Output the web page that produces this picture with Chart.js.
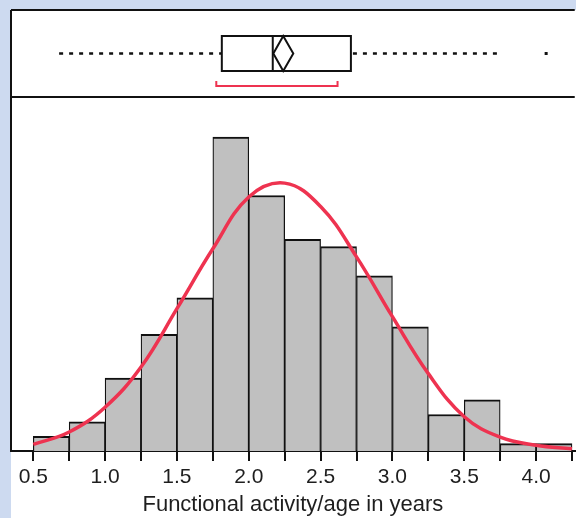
<!DOCTYPE html>
<html>
<head>
<meta charset="utf-8">
<script src="https://cdn.jsdelivr.net/npm/chart.js@4.4.1/dist/chart.umd.min.js"></script>
<style>
    html, body { margin: 0; padding: 0; background: #CDDAF0; }
    #wrap { width: 576px; height: 518px; }
</style>
</head>
<body>
<div id="wrap"><canvas id="myChart" width="576" height="518"></canvas></div>
<script>
// Histogramm: Klassen (linke Kante) und Anzahl
var binStarts = [0.5, 0.75, 1.0, 1.25, 1.5, 1.75, 2.0, 2.25, 2.5, 2.75, 3.0, 3.25, 3.5, 3.75, 4.0];
var binWidth = 0.25;
var counts = [2, 4, 10, 16, 21, 43, 35, 29, 28, 24, 17, 5, 7, 1, 1];

// Normalverteilungskurve
var curveX = [0.5, 0.75, 1.0, 1.25, 1.5, 1.75, 2.0, 2.25, 2.5, 2.75, 3.0, 3.25, 3.5, 3.75, 4.0, 4.25];
var curveY = [0.9, 2.6, 6.0, 11.5, 19.5, 27.7, 34.8, 36.7, 33.5, 26.6, 18.4, 10.6, 4.7, 1.9, 0.8, 0.3];

// Achse
var tickValues = [0.5, 0.75, 1.0, 1.25, 1.5, 1.75, 2.0, 2.25, 2.5, 2.75, 3.0, 3.25, 3.5, 3.75, 4.0, 4.25];
var xRange = [0.345, 4.269];
var yMax = 48.5;

// Boxplot
var whiskers = [0.68, 3.76];
var quartiles = [1.8125, 2.167, 2.711]; // Q1, Median, Q3
var meanDiamond = [2.171, 2.24, 2.31];  // links, Mittelwert, rechts
var outliers = [4.07];
var shortestHalf = [1.774, 2.618];

var fontFamily = "'Liberation Sans', Arial, sans-serif";
var ink = '#111111';
var red = '#EE3350';

var panelPlugin = {
    id: 'panel',
    beforeDraw: function (chart) {
        var ctx = chart.ctx;
        ctx.save();
        ctx.fillStyle = '#CDDAF0';
        ctx.fillRect(0, 0, chart.width, chart.height);
        ctx.fillStyle = '#ffffff';
        ctx.fillRect(11, 10, chart.width - 11, chart.height - 10);
        ctx.restore();
    },
    afterDraw: function (chart) {
        var ctx = chart.ctx;
        var area = chart.chartArea;
        var xs = chart.scales.x;
        var px = function (v) { return xs.getPixelForValue(v); };

        ctx.save();
        ctx.strokeStyle = ink;
        ctx.lineWidth = 2;
        // Rahmen
        ctx.beginPath();
        ctx.moveTo(area.left, 10);
        ctx.lineTo(area.right, 10);
        ctx.moveTo(area.left, 10);
        ctx.lineTo(area.left, area.bottom);
        ctx.moveTo(area.left, area.top);
        ctx.lineTo(area.right, area.top);
        ctx.stroke();

        var boxTop = 36, boxBottom = 71, mid = 53.5;

        // Whisker gestrichelt
        ctx.lineWidth = 2.5;
        ctx.setLineDash([4, 6]);
        ctx.beginPath();
        ctx.moveTo(px(whiskers[0]), mid);
        ctx.lineTo(px(quartiles[0]), mid);
        ctx.moveTo(px(quartiles[2]) + 2, mid);
        ctx.lineTo(px(whiskers[1]), mid);
        ctx.stroke();
        ctx.setLineDash([]);
        ctx.lineWidth = 2;

        // Box
        ctx.strokeRect(px(quartiles[0]), boxTop, px(quartiles[2]) - px(quartiles[0]), boxBottom - boxTop);
        ctx.beginPath();
        ctx.moveTo(px(quartiles[1]), boxTop);
        ctx.lineTo(px(quartiles[1]), boxBottom);
        ctx.stroke();

        // Mittelwert-Raute
        ctx.beginPath();
        ctx.moveTo(px(meanDiamond[0]), mid);
        ctx.lineTo(px(meanDiamond[1]), boxTop);
        ctx.lineTo(px(meanDiamond[2]), mid);
        ctx.lineTo(px(meanDiamond[1]), boxBottom);
        ctx.closePath();
        ctx.stroke();

        // Ausreisser
        ctx.fillStyle = ink;
        outliers.forEach(function (v) {
            ctx.fillRect(px(v) - 1.5, mid - 1.5, 3, 3);
        });

        // kürzeste Hälfte
        ctx.strokeStyle = red;
        ctx.beginPath();
        ctx.moveTo(px(shortestHalf[0]), 81);
        ctx.lineTo(px(shortestHalf[0]), 86);
        ctx.lineTo(px(shortestHalf[1]), 86);
        ctx.lineTo(px(shortestHalf[1]), 81);
        ctx.stroke();
        ctx.restore();
    }
};

var barData = [];
binStarts.forEach(function (s, i) {
    barData.push({ x: s + binWidth / 2, y: counts[i] });
});
var curveData = curveX.map(function (x, i) {
    return { x: x, y: curveY[i] };
});

var ctx = document.getElementById('myChart').getContext('2d');
var myChart = new Chart(ctx, {
    type: 'bar',
    data: {
        datasets: [{
            type: 'line',
            data: curveData,
            borderColor: red,
            borderWidth: 3.5,
            pointRadius: 0,
            tension: 0.4,
            fill: false,
            order: 0
        }, {
            type: 'bar',
            data: barData,
            backgroundColor: '#C0C0C0',
            borderColor: ink,
            borderWidth: { top: 2, left: 1.25, right: 1.25, bottom: 0 },
            borderSkipped: 'start',
            barPercentage: 1,
            categoryPercentage: 1,
            grouped: false,
            order: 1
        }]
    },
    options: {
        responsive: false,
        animation: false,
        devicePixelRatio: 1,
        layout: { padding: { left: 11, top: 97, right: 0, bottom: 0 } },
        plugins: {
            legend: { display: false },
            tooltip: { enabled: false }
        },
        scales: {
            x: {
                type: 'linear',
                min: xRange[0],
                max: xRange[1],
                offset: false,
                afterBuildTicks: function (scale) {
                    scale.ticks = tickValues.map(function (v) { return { value: v }; });
                },
                afterFit: function (scale) {
                    scale.height = 67;
                },
                grid: {
                    offset: false,
                    drawOnChartArea: false,
                    drawTicks: true,
                    tickLength: 10,
                    color: ink,
                    lineWidth: 2
                },
                border: { display: true, color: ink, width: 2 },
                ticks: {
                    autoSkip: false,
                    maxRotation: 0,
                    padding: 4,
                    color: '#1e1e1e',
                    font: { family: fontFamily, size: 21 },
                    callback: function (v) {
                        return Math.round(v * 100) % 50 === 0 ? v.toFixed(1) : '';
                    }
                },
                title: {
                    display: true,
                    text: 'Functional activity/age in years',
                    color: '#1e1e1e',
                    font: { family: fontFamily, size: 22 },
                    padding: { top: 0, bottom: 0 }
                }
            },
            y: {
                display: false,
                min: 0,
                max: yMax
            }
        }
    },
    plugins: [panelPlugin]
});
</script>
</body>
</html>
